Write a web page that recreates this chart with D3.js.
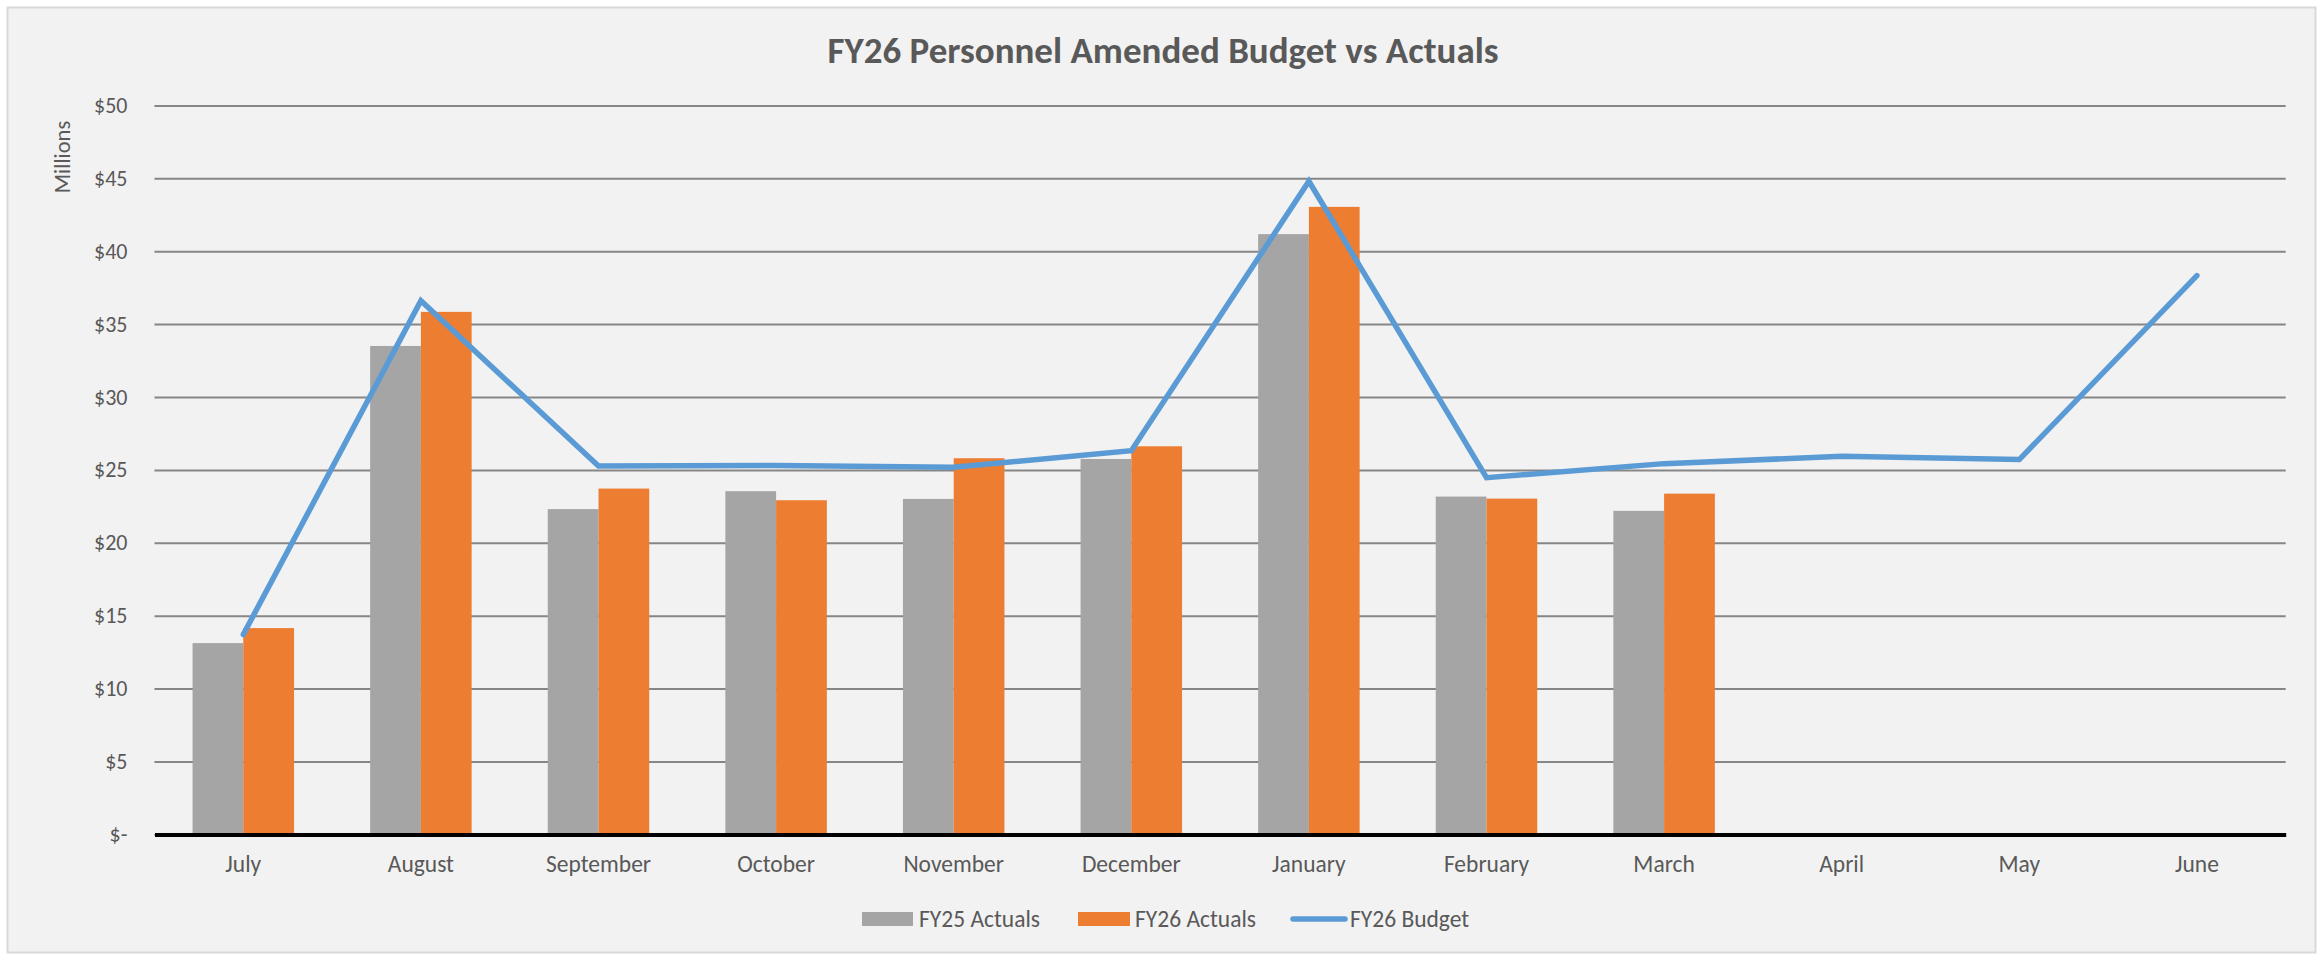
<!DOCTYPE html>
<html>
  <head>
    <meta charset="utf-8">
    <title>FY26 Personnel Amended Budget vs Actuals</title>
    <style>
      body { margin: 0; background: #ffffff; }
      text { font-family: Carlito, Lato, "Open Sans", sans-serif; fill: #595959; }
    </style>
  </head>
  <body>
    <script src="https://d3js.org/d3.v7.min.js"></script>
    <script>
      // Datos del gráfico (millones de dólares)
      var months = ["July", "August", "September", "October", "November", "December",
                    "January", "February", "March", "April", "May", "June"];
      var seriesNames = ["FY25 Actuals", "FY26 Actuals", "FY26 Budget"];
      var fy25Actuals = [13.12, 33.5, 22.31, 23.54, 23.01, 25.75, 41.17, 23.17, 22.19];
      var fy26Actuals = [14.15, 35.84, 23.72, 22.92, 25.8, 26.62, 43.04, 23.03, 23.37];
      var fy26Budget = [13.71, 36.6, 25.27, 25.3, 25.18, 26.32, 44.8, 24.47, 25.43, 25.93, 25.71, 38.33];
      var yTicks = [0, 5, 10, 15, 20, 25, 30, 35, 40, 45, 50];

      var width = 2323, height = 954;
      var colors = { gray: "#a5a5a5", orange: "#ed7d31", blue: "#5b9bd5" };

      var svg = d3.select("body").append("svg")
        .attr("width", width)
        .attr("height", height);

      // Fondo del área del gráfico
      svg.append("rect")
        .attr("x", 7.5).attr("y", 7.5)
        .attr("width", 2308).attr("height", 945)
        .attr("fill", "#f2f2f2")
        .attr("stroke", "#d9d9d9")
        .attr("stroke-width", 2);

      var plot = { left: 154.5, right: 2285.7, top: 105.4, bottom: 834.4 };

      var x0 = d3.scaleBand()
        .domain(months)
        .range([plot.left, plot.right])
        .padding(0);

      var x1 = d3.scaleBand()
        .domain(["FY25", "FY26"])
        .range([0, x0.bandwidth()])
        .paddingInner(0)
        .paddingOuter(0.75);

      var y = d3.scaleLinear()
        .domain([0, 50])
        .range([plot.bottom, plot.top]);

      // Eje Y con líneas de cuadrícula
      var yAxis = svg.append("g")
        .attr("transform", "translate(" + plot.left + ",0)")
        .call(d3.axisLeft(y)
          .tickValues(yTicks)
          .tickSize(-(plot.right - plot.left))
          .tickPadding(27)
          .tickFormat(function(d) { return d === 0 ? "$-" : "$" + d; }));
      yAxis.select(".domain").remove();
      yAxis.selectAll(".tick line")
        .attr("stroke", "#868686")
        .attr("stroke-width", 2);
      yAxis.selectAll(".tick text")
        .attr("font-size", 22)
        .attr("fill", "#595959");

      // Barras
      var bars = svg.append("g");
      bars.selectAll("rect.fy25")
        .data(fy25Actuals)
        .enter().append("rect")
        .attr("class", "fy25")
        .attr("x", function(d, i) { return x0(months[i]) + x1("FY25"); })
        .attr("y", function(d) { return y(d); })
        .attr("width", x1.bandwidth())
        .attr("height", function(d) { return y(0) - y(d); })
        .attr("fill", colors.gray);
      bars.selectAll("rect.fy26")
        .data(fy26Actuals)
        .enter().append("rect")
        .attr("class", "fy26")
        .attr("x", function(d, i) { return x0(months[i]) + x1("FY26"); })
        .attr("y", function(d) { return y(d); })
        .attr("width", x1.bandwidth())
        .attr("height", function(d) { return y(0) - y(d); })
        .attr("fill", colors.orange);

      // Eje X
      var xAxis = svg.append("g")
        .attr("transform", "translate(0," + plot.bottom + ")")
        .call(d3.axisBottom(x0).tickSize(0).tickPadding(21));
      xAxis.select(".domain")
        .attr("stroke", "#000000")
        .attr("stroke-width", 4);
      xAxis.selectAll(".tick text")
        .attr("font-size", 23.5)
        .attr("fill", "#595959");

      // Línea del presupuesto
      var line = d3.line()
        .x(function(d, i) { return x0(months[i]) + x0.bandwidth() / 2; })
        .y(function(d) { return y(d); });
      svg.append("path")
        .datum(fy26Budget)
        .attr("d", line)
        .attr("fill", "none")
        .attr("stroke", colors.blue)
        .attr("stroke-width", 5.5)
        .attr("stroke-linecap", "round")
        .attr("stroke-linejoin", "miter");

      // Título
      svg.append("text")
        .attr("x", 1163)
        .attr("y", 63)
        .attr("text-anchor", "middle")
        .attr("font-size", 37)
        .attr("font-weight", "bold")
        .text("FY26 Personnel Amended Budget vs Actuals");

      // Título del eje Y
      svg.append("text")
        .attr("transform", "translate(70,157) rotate(-90)")
        .attr("text-anchor", "middle")
        .attr("font-size", 22.5)
        .text("Millions");

      // Leyenda
      var legend = svg.append("g");
      legend.append("rect").attr("x", 862).attr("y", 912).attr("width", 51).attr("height", 14).attr("fill", colors.gray);
      legend.append("text").attr("x", 919).attr("y", 927).attr("font-size", 23.5).text(seriesNames[0]);
      legend.append("rect").attr("x", 1078).attr("y", 912).attr("width", 52).attr("height", 14).attr("fill", colors.orange);
      legend.append("text").attr("x", 1135).attr("y", 927).attr("font-size", 23.5).text(seriesNames[1]);
      legend.append("line").attr("x1", 1293).attr("x2", 1345).attr("y1", 919).attr("y2", 919)
        .attr("stroke", colors.blue).attr("stroke-width", 5.5).attr("stroke-linecap", "round");
      legend.append("text").attr("x", 1350).attr("y", 927).attr("font-size", 23.5).text(seriesNames[2]);
    </script>
  </body>
</html>
